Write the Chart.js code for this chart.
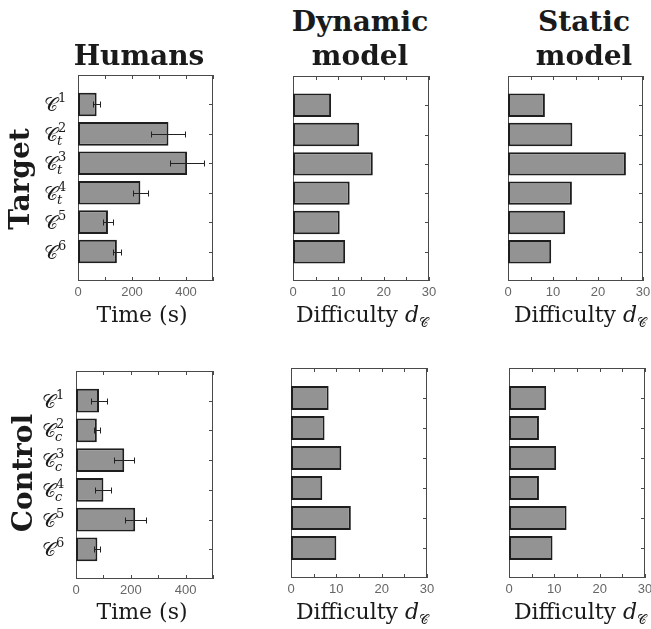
<!DOCTYPE html>
<html>
<head>
<meta charset="utf-8">
<script src="https://cdn.jsdelivr.net/npm/chart.js@4"></script>
<style>
body { margin: 0; background: #fff; }
#wrap { position: relative; width: 651px; height: 629px; overflow: hidden; font-family: "DejaVu Serif", serif; color: #1a1a1a; }
canvas { position: absolute; }
.t { position: absolute; white-space: nowrap; line-height: 1; transform: translateX(-50%); }
.h { font-weight: bold; font-size: 28px; }
.ax { font-size: 22px; }
.ax sub { font-size: 13px; vertical-align: -5px; line-height: 0; }
.row { position: absolute; white-space: nowrap; line-height: 1; font-weight: bold; font-size: 28px; transform: translate(-50%, -50%) rotate(-90deg); }
</style>
</head>
<body>
<div id="wrap">
  <div class="t h" style="left:139px;top:42px">Humans</div>
  <div class="t h" style="left:360px;top:8px">Dynamic</div>
  <div class="t h" style="left:360px;top:42px">model</div>
  <div class="t h" style="left:584px;top:8px">Static</div>
  <div class="t h" style="left:584px;top:42px">model</div>

  <div class="row" style="left:20px;top:179px">Target</div>
  <div class="row" style="left:23px;top:473px">Control</div>

  <div class="t ax" style="left:142px;top:304px">Time (s)</div>
  <div class="t ax" style="left:362px;top:304px">Difficulty <i>d</i><sub>𝒞</sub></div>
  <div class="t ax" style="left:580px;top:304px">Difficulty <i>d</i><sub>𝒞</sub></div>
  <div class="t ax" style="left:142px;top:601px">Time (s)</div>
  <div class="t ax" style="left:362px;top:601px">Difficulty <i>d</i><sub>𝒞</sub></div>
  <div class="t ax" style="left:580px;top:601px">Difficulty <i>d</i><sub>𝒞</sub></div>
</div>
<script>
const labelSup = ['1', '2', '3', '4', '5', '6']
const targetSub = ['', 't', 't', 't', '', '']
const controlSub = ['', 'c', 'c', 'c', '', '']
const timeTickLabels = [0, 200, 400]
const diffTickLabels = [0, 10, 20, 30]

const targetTime = [69, 335, 404, 231, 111, 144]
const targetTimeErr = [14, 63, 63, 28, 17, 15]
const targetDynamic = [8.4, 14.6, 17.6, 12.5, 10.3, 11.5]
const targetStatic = [8.2, 14.3, 26.2, 14.2, 12.7, 9.6]

const controlTime = [84, 76, 176, 100, 216, 78]
const controlTimeErr = [28, 10, 36, 29, 38, 11]
const controlDynamic = [8.3, 7.4, 11.1, 6.9, 13.2, 10.0]
const controlStatic = [8.2, 6.6, 10.4, 6.6, 12.7, 9.6]

const wrap = document.querySelector('#wrap')

let makeDecor = function (p) {
  return {
    id: 'decor',
    beforeDatasetsDraw(chart) {
      const { ctx, chartArea: a, scales: { x, y } } = chart
      ctx.save()
      ctx.strokeStyle = '#4a4a4a'
      ctx.lineWidth = 1
      ctx.strokeRect(a.left + 0.5, a.top + 0.5, a.right - a.left - 1, a.bottom - a.top - 1)
      ctx.beginPath()
      x.ticks.forEach(t => {
        const px = Math.round(x.getPixelForValue(t.value)) + 0.5
        ctx.moveTo(px, a.top); ctx.lineTo(px, a.top + 4)
        ctx.moveTo(px, a.bottom); ctx.lineTo(px, a.bottom - 4)
      })
      p.values.forEach((v, i) => {
        const py = Math.round(y.getPixelForValue(i + 1)) + 0.5
        ctx.moveTo(a.right, py); ctx.lineTo(a.right - 4, py)
        ctx.moveTo(a.left, py); ctx.lineTo(a.left + 4, py)
      })
      ctx.stroke()
      ctx.restore()
    },
    afterDatasetsDraw(chart) {
      if (!p.err) return
      const { ctx, scales: { x, y } } = chart
      ctx.save()
      ctx.strokeStyle = '#222'
      ctx.lineWidth = 1
      ctx.beginPath()
      p.err.forEach((e, i) => {
        const v = p.values[i]
        const cy = Math.round(y.getPixelForValue(i + 1)) + 0.5
        const x1 = Math.round(x.getPixelForValue(v - e)) + 0.5
        const x2 = Math.round(x.getPixelForValue(v + e)) + 0.5
        ctx.moveTo(x1, cy); ctx.lineTo(x2, cy)
        ctx.moveTo(x1, cy - 3); ctx.lineTo(x1, cy + 3)
        ctx.moveTo(x2, cy - 3); ctx.lineTo(x2, cy + 3)
      })
      ctx.stroke()
      ctx.restore()
    },
    afterDraw(chart) {
      if (!p.sub) return
      const { ctx, chartArea: a, scales: { y } } = chart
      ctx.save()
      ctx.fillStyle = '#1a1a1a'
      ctx.textAlign = 'left'
      ctx.textBaseline = 'alphabetic'
      labelSup.forEach((s, i) => {
        const cy = y.getPixelForValue(i + 1)
        const x0 = a.left - 34
        ctx.font = '19px "DejaVu Serif"'
        ctx.fillText('𝒞', x0, cy + 7)
        const cw = ctx.measureText('𝒞').width
        ctx.font = '13px "DejaVu Serif"'
        ctx.fillText(s, x0 + cw, cy - 2)
        if (p.sub[i]) {
          ctx.font = 'italic 13px "DejaVu Serif"'
          ctx.fillText(p.sub[i], x0 + cw - 1, cy + 11)
        }
      })
      ctx.restore()
    }
  }
}

let makePanel = function (p) {
  const canvas = document.createElement('canvas')
  canvas.width = p.w + p.padL + 12
  canvas.height = p.h + 30
  canvas.style.left = (p.x - p.padL) + 'px'
  canvas.style.top = (p.y - 6) + 'px'
  wrap.insertBefore(canvas, wrap.firstChild)
  new Chart(canvas, {
    type: 'bar',
    data: {
      datasets: [{
        data: p.values.map((v, i) => ({ x: v, y: i + 1 })),
        backgroundColor: '#939393',
        borderColor: '#1e1e1e',
        borderWidth: 2,
        borderSkipped: false,
        barPercentage: 0.8,
        categoryPercentage: 1
      }]
    },
    options: {
      indexAxis: 'y',
      responsive: false,
      animation: false,
      devicePixelRatio: 1,
      layout: { padding: { left: p.padL, top: 6, right: 12, bottom: 4 } },
      plugins: { legend: { display: false }, tooltip: { enabled: false } },
      scales: {
        x: {
          type: 'linear', min: 0, max: p.max,
          border: { display: false },
          grid: { display: false, drawTicks: false },
          ticks: {
            stepSize: p.step, padding: 4, color: '#666', maxRotation: 0, autoSkip: false,
            font: { family: 'Liberation Sans', size: 13 },
            callback: v => p.tickLabels.includes(v) ? v : ''
          },
          afterFit: s => { s.height = 20 }
        },
        y: { type: 'linear', display: false, min: 0, max: 7, reverse: true, offset: false, grid: { offset: false } }
      }
    },
    plugins: [makeDecor(p)]
  })
}

makePanel({ x: 78, y: 75, w: 135, h: 206, padL: 70, values: targetTime, err: targetTimeErr, sub: targetSub, max: 500, step: 100, tickLabels: timeTickLabels })
makePanel({ x: 293, y: 76, w: 136, h: 205, padL: 8, values: targetDynamic, max: 30, step: 5, tickLabels: diffTickLabels })
makePanel({ x: 508, y: 76, w: 135, h: 205, padL: 8, values: targetStatic, max: 30, step: 5, tickLabels: diffTickLabels })
makePanel({ x: 76, y: 371, w: 137, h: 208, padL: 70, values: controlTime, err: controlTimeErr, sub: controlSub, max: 500, step: 100, tickLabels: timeTickLabels })
makePanel({ x: 291, y: 368, w: 136, h: 210, padL: 8, values: controlDynamic, max: 30, step: 5, tickLabels: diffTickLabels })
makePanel({ x: 509, y: 368, w: 136, h: 210, padL: 8, values: controlStatic, max: 30, step: 5, tickLabels: diffTickLabels })
</script>
</body>
</html>
